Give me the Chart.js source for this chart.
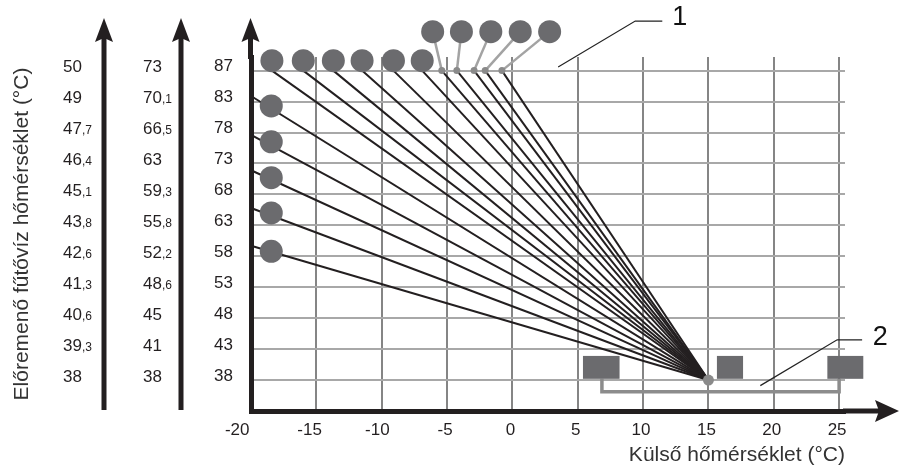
<!DOCTYPE html>
<html><head><meta charset="utf-8">
<script src="https://cdn.jsdelivr.net/npm/chart.js@4/dist/chart.umd.min.js"></script>
<style>html,body{margin:0;padding:0;background:#fff}canvas{display:block}</style>
</head><body>
<canvas id="c" width="902" height="469"></canvas>
<script>
// ---------- data ----------
const xTicks = [-20, -15, -10, -5, 0, 5, 10, 15, 20, 25];
const yRows = [38, 43, 48, 53, 58, 63, 68, 73, 78, 83, 88];          // evenly spaced grid rows
const flowLabels87 = ['38','43','48','53','58','63','68','73','78','83','87'];
const flowLabels73 = ['38','41','45','48,6','52,2','55,8','59,3','63','66,5','70,1','73'];
const flowLabels50 = ['38','39,3','40,6','41,3','42,6','43,8','45,1','46,4','47,7','49','50'];
const pivotX = 15, pivotY = 38;                                        // common point of all curves
const leftCurveY = [83.9, 77.6, 71.9, 65.8, 59.7];                    // curves starting at -20 °C
const topCurveX = [-18.4, -16.0, -13.7, -11.5, -9.1, -6.9, -5.4, -4.25, -2.93, -2.08, -0.8]; // curves starting on top row
const topRowY = 88;
const leftMarkerX = -18.45, leftMarkerY = [82.3, 76.5, 70.7, 65.0, 58.8];
const topMarkerX = [-18.4, -16.0, -13.7, -11.5, -9.1, -6.9], topMarkerY = 89.6;
const upperMarkerX = [-6.1, -3.9, -1.65, 0.6, 2.85], upperMarkerY = 94.3;
const upperDotX = [-5.4, -4.25, -2.93, -2.08, -0.8];
const boxX = [[5.4, 8.2], [15.65, 17.65], [24.1, 26.85]], boxY = [38.2, 41.9];
const bracketX = [6.85, 6.85, 25, 25], bracketY = [38.2, 36.1, 36.1, 38.2];
const callout1 = {x: [3.5, 9.4, 11.47], y: [88.6, 96.0, 96.0], labelX: 12.8, labelY: 96.6, text: '1'};
const callout2 = {x: [18.97, 24.85, 26.76], y: [37.1, 44.5, 44.5], labelX: 28.15, labelY: 44.8, text: '2'};

const FONT = "'Liberation Sans', Arial, sans-serif";
const INK = '#231f20', MARK = '#6b6b6e', LIGHT = '#a3a3a3';
const MARKER_R = 11.5;

// ---------- datasets ----------
const datasets = [];
leftCurveY.forEach(y => datasets.push({type:'line', data:[{x:-20, y:y},{x:pivotX, y:pivotY}],
  borderColor: INK, borderWidth: 2, pointRadius: 0, order: 5, clip: false}));
topCurveX.forEach(x => datasets.push({type:'line', data:[{x:x, y:topRowY},{x:pivotX, y:pivotY}],
  borderColor: INK, borderWidth: 2, pointRadius: 0, order: 5, clip: false}));
upperMarkerX.forEach((x, i) => datasets.push({type:'line', data:[{x:x, y:upperMarkerY},{x:upperDotX[i], y:topRowY}],
  borderColor: LIGHT, borderWidth: 2.5, pointRadius: 0, order: 4, clip: false}));
datasets.push({type:'line', data: bracketX.map((x,i)=>({x:x, y:bracketY[i]})),
  borderColor: '#8c8c8c', borderWidth: 3.5, pointRadius: 0, order: 4, clip: false});
datasets.push({type:'scatter', data: upperDotX.map(x=>({x:x, y:topRowY})),
  pointRadius: 3.5, pointBackgroundColor: '#8a8a8a', pointBorderWidth: 0, order: 2, clip: false});
datasets.push({type:'scatter', data: [{x:pivotX, y:pivotY}],
  pointRadius: 5.5, pointBackgroundColor: '#8a8a8a', pointBorderWidth: 0, order: 2, clip: false});
datasets.push({type:'scatter', data: leftMarkerY.map(y=>({x:leftMarkerX, y:y}))
  .concat(topMarkerX.map(x=>({x:x, y:topMarkerY}))),
  pointRadius: MARKER_R, pointBackgroundColor: MARK, pointBorderWidth: 0, order: 1, clip: false});

// ---------- decorations ----------
function arrowUp(ctx, x, yTip, yBottom) {
  ctx.fillStyle = INK;
  ctx.fillRect(x - 2.5, yTip + 18, 5, yBottom - yTip - 18);
  ctx.beginPath();
  ctx.moveTo(x, yTip); ctx.lineTo(x + 9, yTip + 24); ctx.lineTo(x, yTip + 20); ctx.lineTo(x - 9, yTip + 24);
  ctx.closePath(); ctx.fill();
}
function arrowRight(ctx, xStart, xTip, y) {
  ctx.fillStyle = INK;
  ctx.fillRect(xStart, y - 2.5, xTip - xStart - 18, 5);
  ctx.beginPath();
  ctx.moveTo(xTip, y); ctx.lineTo(xTip - 24, y - 11); ctx.lineTo(xTip - 20, y); ctx.lineTo(xTip - 24, y + 11);
  ctx.closePath(); ctx.fill();
}
function drawSplitLabel(ctx, txt, x, baseY) {
  const parts = txt.split(',');
  ctx.textAlign = 'left'; ctx.textBaseline = 'alphabetic'; ctx.fillStyle = INK;
  ctx.font = '17px ' + FONT;
  ctx.fillText(parts[0], x, baseY);
  if (parts.length > 1) {
    const w = ctx.measureText(parts[0]).width;
    ctx.font = '12px ' + FONT;
    ctx.fillText(',' + parts[1], x + w, baseY);
  }
}
const deco = {
  id: 'deco',
  afterDatasetsDraw(chart) {
    const ctx = chart.ctx, xs = chart.scales.x, ys = chart.scales.y;
    ctx.save();
    ctx.fillStyle = MARK;
    boxX.forEach(b => {
      const x0 = xs.getPixelForValue(b[0]), x1 = xs.getPixelForValue(b[1]);
      const y0 = ys.getPixelForValue(boxY[1]), y1 = ys.getPixelForValue(boxY[0]);
      ctx.fillRect(x0, y0, x1 - x0, y1 - y0);
    });
    // selector markers above the plot area (outside the area, so drawn here through the scales)
    upperMarkerX.forEach(x => {
      ctx.beginPath();
      ctx.arc(xs.getPixelForValue(x), ys.getPixelForValue(upperMarkerY), MARKER_R, 0, Math.PI * 2);
      ctx.fill();
    });
    ctx.restore();
  },
  afterDraw(chart) {
    const ctx = chart.ctx, xs = chart.scales.x, ys = chart.scales.y, a = chart.chartArea;
    ctx.save();
    // axis arrows
    arrowUp(ctx, a.left - 0.5, 18, a.top + 2);
    arrowRight(ctx, a.right - 2, 899, a.bottom);
    // side scales
    const col1 = 104, col2 = 181;
    arrowUp(ctx, col1, 18, 410);
    arrowUp(ctx, col2, 18, 410);
    yRows.forEach((v, i) => {
      const py = ys.getPixelForValue(v) + 1.5;
      drawSplitLabel(ctx, flowLabels50[i], 63, py);
      drawSplitLabel(ctx, flowLabels73[i], 143, py);
    });
    // callouts
    [callout1, callout2].forEach(c => {
      ctx.strokeStyle = '#222'; ctx.lineWidth = 1.2;
      ctx.beginPath();
      c.x.forEach((x, i) => {
        const px = xs.getPixelForValue(x), py = ys.getPixelForValue(c.y[i]);
        if (i === 0) ctx.moveTo(px, py); else ctx.lineTo(px, py);
      });
      ctx.stroke();
      ctx.fillStyle = '#111'; ctx.font = '27px ' + FONT;
      ctx.textAlign = 'center'; ctx.textBaseline = 'middle';
      ctx.fillText(c.text, xs.getPixelForValue(c.labelX), ys.getPixelForValue(c.labelY));
    });
    ctx.restore();
  }
};

new Chart(document.getElementById('c'), {
  type: 'scatter',
  data: { datasets },
  plugins: [deco],
  options: {
    responsive: false, animation: false, devicePixelRatio: 1,
    layout: { padding: { left: 0, right: 57, top: 57, bottom: 0 } },
    plugins: { legend: { display: false }, tooltip: { enabled: false } },
    scales: {
      x: {
        type: 'linear', min: -20, max: 25.45,
        afterBuildTicks: s => { s.ticks = xTicks.map(v => ({ value: v })); },
        afterFit: s => { s.height = 58; },
        grid: { color: '#858585', lineWidth: 2, drawTicks: false },
        border: { display: true, color: INK, width: 5 },
        ticks: {
          padding: 9, color: INK, font: { family: FONT, size: 17 }, labelOffset: -2, maxRotation: 0,
          callback: v => { const pad = {'-20':'     ', '-15':'  ', '-10':' '}; return String(v) + (pad[String(v)] || ''); }
        },
        title: { display: true, text: 'Külső hőmérséklet (°C)', align: 'end', color: '#333',
          font: { family: FONT, size: 21 }, padding: { top: 0, bottom: 1 } }
      },
      y: {
        type: 'linear', min: 33, max: 90.2,
        afterBuildTicks: s => { s.ticks = yRows.map(v => ({ value: v })); },
        afterFit: s => { s.width = 251; },
        grid: { color: '#a8a8a8', lineWidth: 2, drawTicks: false },
        border: { display: true, color: INK, width: 5 },
        ticks: {
          padding: 18, color: INK, font: { family: FONT, size: 17 }, labelOffset: -4,
          callback: (v) => { const i = yRows.indexOf(v); return i >= 0 ? flowLabels87[i] : ''; }
        },
        title: { display: true, text: 'Előremenő fűtővíz hőmérséklet (°C)', color: '#333',
          font: { family: FONT, size: 21 }, padding: { top: 10, bottom: 0 } }
      }
    }
  }
});
</script>
</body></html>
